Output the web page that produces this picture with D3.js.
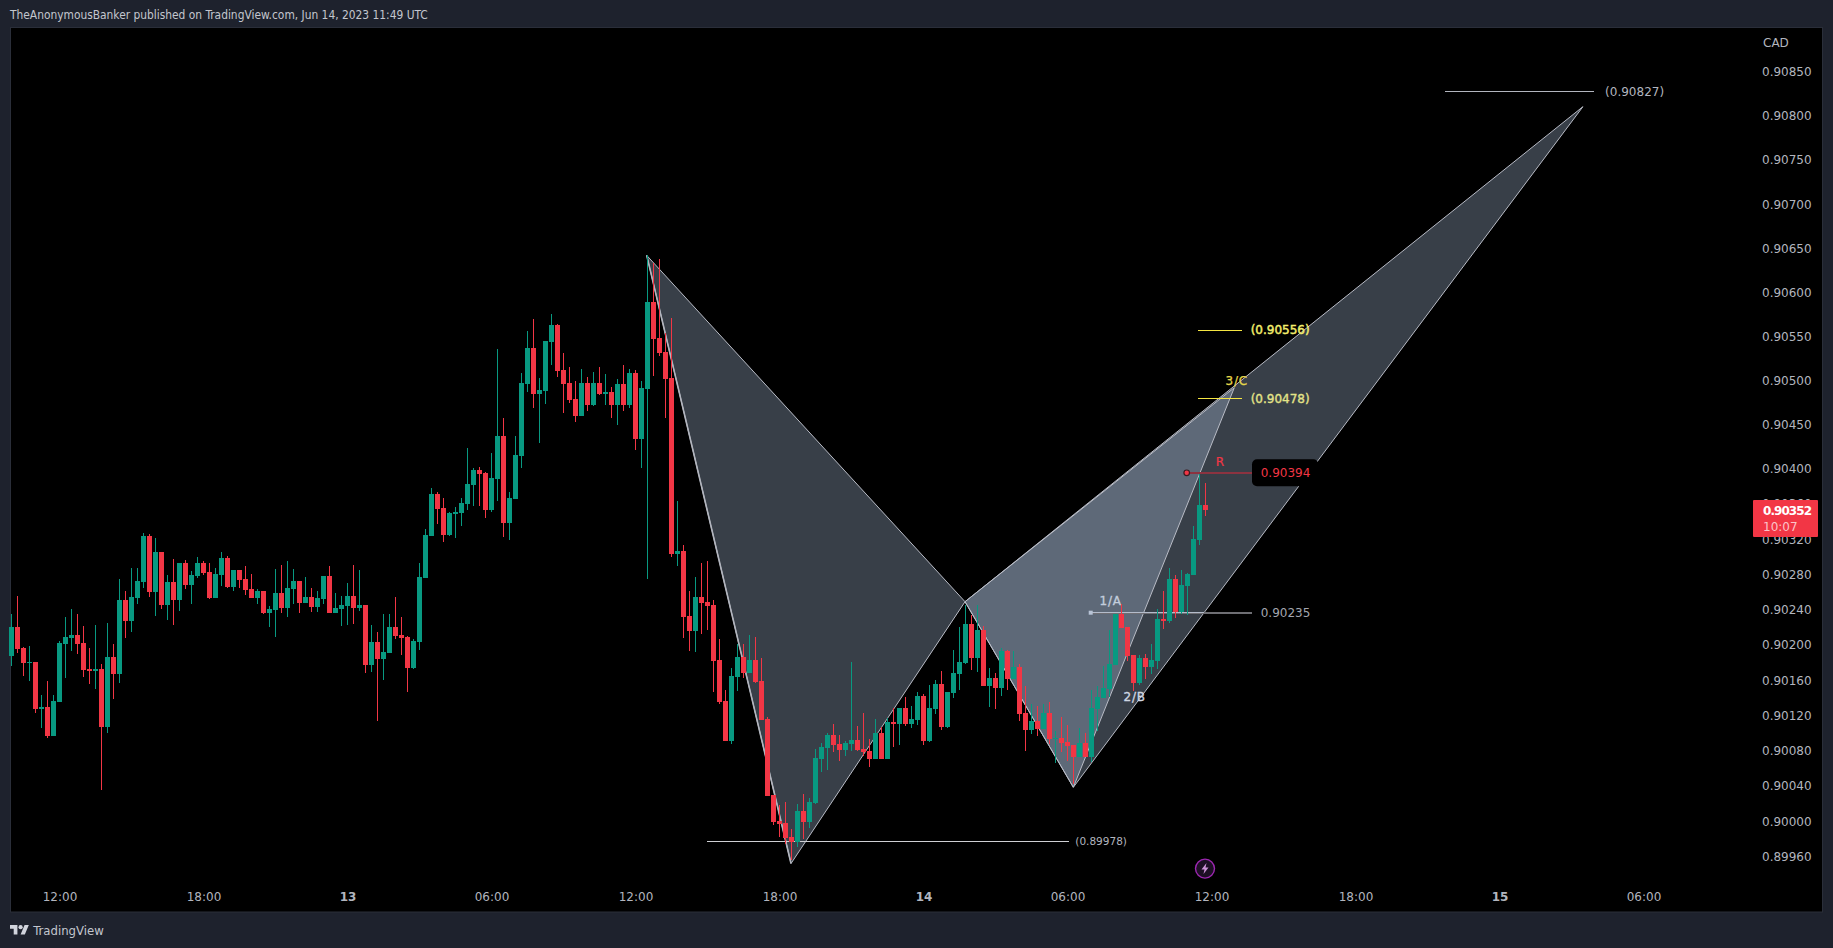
<!DOCTYPE html>
<html><head><meta charset="utf-8">
<script src="https://cdn.jsdelivr.net/npm/d3@7/dist/d3.min.js"></script>
<style>html,body{margin:0;padding:0;background:#1e222d;overflow:hidden}svg{display:block}</style>
</head><body><svg id="c" width="1833" height="948"></svg>
<script>
// 15-minute bars, Jun 12 10:00 → Jun 14 11:45 UTC. Prices in points (90186 = 0.90186).
const opens=[90186,90219,90195,90178,90179,90126,90128,90095,90134,90199,
90206,90210,90201,90171,90169,90171,90105,90185,90165,90249,
90226,90252,90270,90322,90259,90304,90244,90270,90249,90292,
90267,90277,90292,90281,90252,90278,90297,90264,90284,90273,
90262,90252,90260,90235,90238,90257,90240,90262,90271,90246,
90253,90242,90251,90277,90235,90239,90243,90254,90240,90244,
90176,90202,90182,90189,90219,90210,90207,90172,90202,90275,
90322,90370,90354,90323,90347,90348,90359,90380,90397,90394,
90352,90387,90436,90337,90364,90413,90495,90536,90484,90487,
90543,90562,90511,90496,90478,90459,90496,90471,90496,90484,
90486,90471,90495,90471,90507,90432,90489,90588,90547,90531,
90502,90302,90305,90231,90214,90253,90247,90244,90181,90135,
90089,90162,90185,90166,90181,90157,90114,90028,89998,89996,
89980,89974,90010,89997,90019,90069,90081,90096,90086,90079,
90086,90090,90080,90078,90069,90098,90069,90111,90109,90127,
90109,90113,90140,90089,90126,90154,90105,90144,90165,90178,
90222,90184,90215,90152,90161,90150,90192,90160,90173,90121,
90102,90112,90103,90121,90092,90093,90088,90085,90071,90087,
90071,90126,90138,90148,90176,90234,90219,90187,90155,90184,
90173,90180,90228,90226,90273,90236,90265,90278,90318,90357];
const highs=[90234,90254,90196,90197,90179,90142,90157,90142,90203,90230,
90239,90234,90220,90195,90221,90177,90223,90199,90273,90260,
90286,90286,90326,90324,90320,90304,90278,90296,90292,90295,
90282,90298,90294,90292,90286,90304,90300,90284,90284,90288,
90279,90262,90260,90243,90285,90289,90294,90285,90271,90276,
90263,90260,90277,90288,90257,90254,90269,90289,90284,90244,
90221,90213,90234,90234,90253,90230,90209,90205,90292,90330,
90377,90372,90365,90349,90355,90365,90422,90399,90401,90395,
90417,90535,90456,90372,90436,90507,90555,90569,90502,90544,
90575,90563,90530,90514,90498,90512,90503,90509,90514,90506,
90492,90501,90517,90512,90511,90498,90641,90632,90637,90553,
90570,90362,90312,90260,90276,90291,90294,90249,90205,90147,
90172,90199,90199,90210,90207,90184,90116,90028,90016,90020,
89989,90018,90029,90024,90080,90087,90098,90109,90096,90089,
90179,90106,90121,90091,90114,90105,90115,90127,90127,90139,
90129,90145,90143,90153,90159,90169,90145,90193,90219,90244,
90232,90244,90220,90172,90167,90195,90193,90192,90177,90152,
90131,90129,90131,90134,90101,90117,90107,90085,90104,90098,
90147,90152,90175,90215,90234,90245,90219,90187,90187,90188,
90200,90239,90260,90286,90278,90284,90280,90334,90393,90382];
const lows=[90174,90189,90163,90157,90121,90104,90093,90095,90134,90161,
90192,90188,90162,90154,90148,90034,90098,90137,90155,90206,
90213,90245,90263,90253,90231,90239,90227,90221,90237,90262,
90245,90274,90278,90251,90252,90265,90263,90260,90263,90255,
90252,90245,90234,90219,90207,90235,90230,90245,90235,90246,
90236,90236,90245,90235,90235,90220,90221,90222,90237,90167,
90168,90112,90159,90189,90205,90187,90145,90171,90193,90275,
90322,90336,90315,90322,90320,90334,90352,90356,90356,90343,
90349,90362,90321,90318,90364,90399,90486,90468,90428,90472,
90517,90503,90462,90473,90452,90459,90464,90470,90482,90471,
90456,90448,90464,90468,90420,90399,90273,90504,90527,90456,
90298,90288,90206,90191,90190,90211,90215,90145,90131,90089,
90086,90146,90161,90166,90155,90113,90027,89994,89980,89972,
89954,89969,89978,89990,90018,90054,90056,90077,90066,90072,
90078,90078,90072,90060,90069,90069,90069,90082,90085,90106,
90104,90107,90085,90088,90120,90102,90104,90138,90147,90177,
90170,90168,90152,90128,90126,90140,90147,90160,90112,90078,
90097,90095,90103,90086,90064,90077,90067,90040,90071,90071,
90065,90101,90138,90139,90176,90218,90180,90146,90153,90160,
90165,90171,90216,90223,90229,90233,90232,90278,90312,90345];
const closes=[90219,90194,90178,90179,90126,90128,90095,90135,90201,90207,
90210,90199,90170,90169,90171,90105,90185,90165,90249,90226,
90253,90271,90322,90259,90304,90244,90270,90249,90292,90267,
90278,90292,90280,90252,90279,90297,90264,90284,90272,90261,
90252,90260,90235,90239,90257,90240,90263,90271,90246,90253,
90242,90252,90277,90235,90240,90244,90254,90240,90244,90176,
90202,90182,90190,90219,90209,90206,90172,90203,90276,90323,
90370,90353,90323,90348,90349,90360,90381,90397,90393,90352,
90388,90436,90337,90365,90414,90496,90536,90484,90488,90544,
90562,90510,90495,90477,90459,90496,90471,90496,90484,90486,
90471,90495,90471,90507,90432,90490,90588,90546,90530,90501,
90302,90305,90230,90214,90253,90246,90243,90180,90134,90089,
90163,90185,90166,90181,90156,90113,90027,89997,89995,89979,
89974,90010,89997,90020,90070,90082,90096,90085,90079,90087,
90090,90079,90077,90069,90098,90069,90111,90109,90127,90109,
90114,90140,90089,90127,90154,90105,90145,90166,90179,90222,
90184,90215,90152,90161,90150,90192,90160,90173,90120,90102,
90112,90103,90121,90092,90093,90087,90084,90071,90087,90071,
90127,90139,90150,90177,90234,90218,90186,90155,90184,90173,
90181,90228,90226,90273,90236,90267,90279,90319,90357,90352];

const timeTickBars=[8,32,56,80,104,128,152,176,200,224,248,272];
const timeTickLabels=["12:00","18:00","13","06:00","12:00","18:00","14","06:00","12:00","18:00","15","06:00"];
const priceTicks=[90850,90800,90750,90700,90650,90600,90550,90500,90450,90400,90360,90320,90280,90240,90200,90160,90120,90080,90040,90000,89960];

// harmonic pattern pivots: [bar index, price points]
const pivotX=[105.87,90641], pivotA=[129.92,89950], pivotB=[158.92,90247.5],
      pivotC=[176.97,90036.6], pivotD=[203.8,90490.7], pivotE=[261.9,90810];
const patternTriangles=[[pivotX,pivotA,pivotB],[pivotB,pivotC,pivotE],[pivotB,pivotC,pivotD]];

// horizontal levels: bar from, bar to, price, colour, width
const levelLines=[
 [238.9,263.8,90827,"#b2b5be",1],
 [197.8,205.03,90556,"#f5e642",1],
 [197.8,205.03,90478,"#f5e642",1],
 [115.87,176.17,89975,"#cfd0d4",1],
 [179.87,206.7,90235,"#6e6e73",2],
 [179.87,198.75,90235,"#b4bccb",1],
 [195.87,206.75,90394,"#8c3340",2]
];
// text annotations: text, bar, price, colour, size, anchor, stroke, letter spacing
const levelTexts=[
 ["(0.90827)",265.6,90827,"#b2b5be",12,"start",0,0],
 ["(0.90556)",206.53,90556,"#f3ee6c",12,"start",.45,0],
 ["(0.90478)",206.53,90478,"#e4e488",12,"start",.35,0],
 ["(0.89978)",177.3,89975,"#b2b5be",10.5,"start",0,0],
 ["0.90235",208.2,90235,"#a3a6af",12,"start",0,0],
 ["3/C",204.2,90498,"#e6d84a",12,"middle",.25,.8],
 ["1/A",183.2,90248,"#c3cddc",12,"middle",.35,.8],
 ["2/B",187.2,90140,"#cfd6e2",12,"middle",.35,.8],
 ["R",201.4,90407,"#f23645",12,"middle",.2,0]
];

const W=1833,H=948;
const GREEN="#089981",RED="#f23645",FONT="'DejaVu Sans',sans-serif",COND="'DejaVu Sans Condensed','DejaVu Sans',sans-serif";
const svg=d3.select("#c");
const x=d3.scaleLinear().domain([0,199]).range([11.5,1205.5]);
const y=d3.scaleLinear().domain([90850,89960]).range([71.5,854.7]);
const yLabels=d3.scaleLinear().domain([90850,89960]).range([72,856.5]);

svg.append("rect").attr("width",W).attr("height",H).attr("fill","#1e222d");
svg.append("rect").attr("x",10.5).attr("y",27.5).attr("width",1812).attr("height",884.5)
  .attr("fill","#000").attr("stroke","#2a2e39").attr("stroke-width",1);
svg.append("text").attr("x",10).attr("y",15).attr("dy",".35em").attr("font-family",COND)
  .attr("font-size",11.87).attr("fill","#c3c6ce")
  .text("TheAnonymousBanker published on TradingView.com, Jun 14, 2023 11:49 UTC");

const chart=svg.append("g");
const line=d3.line().x(d=>x(d[0])).y(d=>y(d[1]));
chart.selectAll("path.tri").data(patternTriangles).join("path").attr("class","tri")
  .attr("d",d=>line(d)+"Z").attr("fill","rgb(173,195,224)").attr("fill-opacity",.32)
  .attr("stroke","#b9bcc6").attr("stroke-width",1);
chart.append("path").attr("d",line([pivotX,pivotA])).attr("stroke","#b2b5be").attr("stroke-width",1.6).attr("fill","none");

chart.selectAll("line.lvl").data(levelLines).join("line").attr("class","lvl")
  .attr("shape-rendering","crispEdges")
  .attr("x1",d=>x(d[0])).attr("x2",d=>x(d[1])).attr("y1",d=>y(d[2])).attr("y2",d=>y(d[2]))
  .attr("stroke",d=>d[3]).attr("stroke-width",d=>d[4]);
chart.append("rect").attr("x",x(179.87)-2).attr("y",y(90235)-2).attr("width",4).attr("height",4).attr("fill","#b8c4d6");

const bars=opens.map((o,i)=>({i,o,h:highs[i],l:lows[i],c:closes[i]}));
const col=d=>d.c>=d.o?GREEN:RED;
const cg=chart.append("g").attr("shape-rendering","crispEdges");
cg.selectAll("rect.w").data(bars).join("rect").attr("class","w")
  .attr("x",d=>x(d.i)-.5).attr("width",1).attr("y",d=>y(d.h)).attr("height",d=>y(d.l)-y(d.h)).attr("fill",col);
cg.selectAll("rect.b").data(bars).join("rect").attr("class","b")
  .attr("x",d=>x(d.i)-2.5).attr("width",5).attr("y",d=>y(Math.max(d.o,d.c)))
  .attr("height",d=>Math.max(1,Math.abs(y(d.o)-y(d.c)))).attr("fill",col);

// R marker and tag
chart.append("circle").attr("cx",x(195.87)).attr("cy",y(90394)).attr("r",2.8).attr("fill",RED).attr("stroke","#3a1a20").attr("stroke-width",1.2);
chart.append("rect").attr("x",x(206.75)).attr("y",y(90394)-13.5).attr("width",66.3).attr("height",27).attr("rx",5).attr("fill","#000");
chart.append("text").attr("x",x(208.2)).attr("y",y(90394)).attr("dy",".35em").attr("font-family",FONT).attr("font-size",12).attr("fill",RED).text("0.90394");
chart.selectAll("text.lt").data(levelTexts).join("text").attr("class","lt")
  .attr("x",d=>x(d[1])).attr("y",d=>y(d[2])).attr("dy",".35em").attr("font-family",FONT)
  .attr("font-size",d=>d[4]).attr("text-anchor",d=>d[5]).attr("fill",d=>d[3])
  .attr("stroke",d=>d[6]?d[3]:"none").attr("stroke-width",d=>d[6]).attr("letter-spacing",d=>d[7]).text(d=>d[0]);

// axes
const xAxis=d3.axisBottom(x).tickValues(timeTickBars).tickSize(0).tickPadding(0).tickFormat((d,i)=>timeTickLabels[i]);
const xg=svg.append("g").attr("transform","translate(0,897)").call(xAxis);
xg.select(".domain").remove();
xg.selectAll("text").attr("y",0).attr("dy",".35em").attr("font-family",FONT).attr("font-size",12).attr("fill","#b2b5be")
  .attr("font-weight",d=>[56,152,248].includes(d)?"bold":"normal");
const yAxis=d3.axisRight(yLabels).tickValues(priceTicks).tickSize(0).tickPadding(0).tickFormat(d=>(d/1e5).toFixed(5));
const yg=svg.append("g").attr("transform","translate(1762,0)").call(yAxis);
yg.select(".domain").remove();
yg.selectAll("text").attr("font-family",FONT).attr("font-size",12).attr("fill","#b2b5be");
svg.append("text").attr("x",1763).attr("y",43).attr("dy",".35em").attr("font-family",FONT).attr("font-size",12).attr("fill","#b2b5be").text("CAD");

// last price tag
svg.append("rect").attr("x",1753).attr("y",500).attr("width",65).attr("height",37).attr("rx",1).attr("fill",RED);
svg.append("text").attr("x",1763).attr("y",511).attr("dy",".35em").attr("font-family",FONT).attr("font-size",12).attr("font-weight","bold").attr("fill","#fff").attr("textLength",49).text("0.90352");
svg.append("text").attr("x",1763).attr("y",527).attr("dy",".35em").attr("font-family",FONT).attr("font-size",12).attr("fill","#fbc3c8").text("10:07");

// bolt icon
const bolt=svg.append("g").attr("transform","translate(1205,868.6)");
bolt.append("circle").attr("r",9.5).attr("fill","#1d0f24").attr("stroke","#9c27b0").attr("stroke-width",1.4);
bolt.append("path").attr("d","M1.5,-5.5 L-3.5,1 L-0.5,1 L-1.5,5.5 L3.5,-1 L0.5,-1 Z").attr("fill","#ce93d8");

// footer logo
svg.append("path").attr("transform","translate(10,922.9) scale(.53)")
  .attr("d","M14 22H7V11H0V4h14v18zM28 22h-8l7.5-18h8L28 22z").attr("fill","#d1d4dc");
svg.append("circle").attr("cx",10+20*.53).attr("cy",922.9+8*.53).attr("r",4*.53).attr("fill","#d1d4dc");
svg.append("text").attr("x",33.3).attr("y",930.7).attr("dy",".35em").attr("font-family",COND).attr("font-size",13).attr("fill","#c3c6ce").text("TradingView");
</script></body></html>
